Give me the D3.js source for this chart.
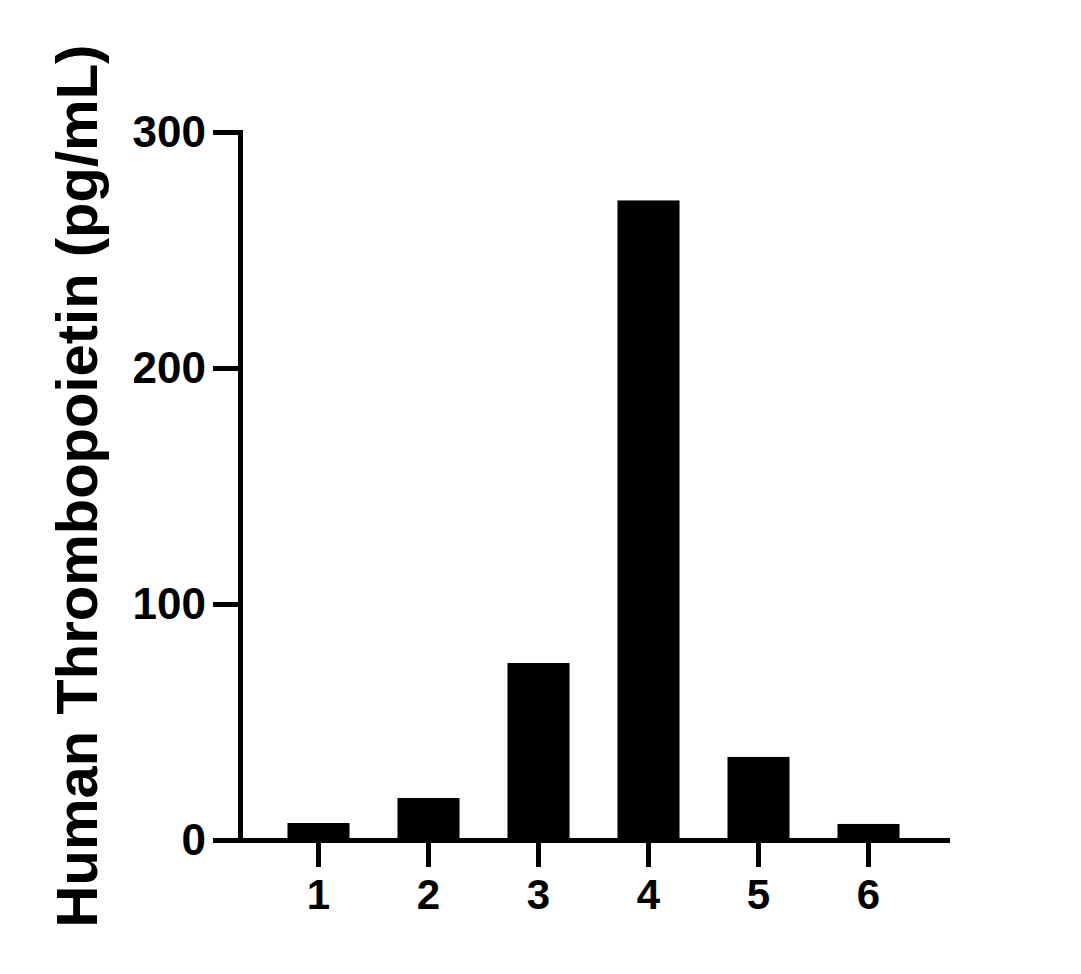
<!DOCTYPE html>
<html>
<head>
<meta charset="utf-8">
<script src="https://cdn.jsdelivr.net/npm/d3@7"></script>
<style>
  body { margin: 0; background: #fff; }
  svg { display: block; font-family: "Liberation Sans", Arial, sans-serif; font-weight: bold; }
</style>
</head>
<body>
<div id="chart"></div>
<script>
// values
const samples = ['1', '2', '3', '4', '5', '6'];
const values = [7.2, 17.8, 75, 271, 35.2, 6.8];
const yTicks = [0, 100, 200, 300];
const yTitle = 'Human Thrombopoietin (pg/mL)';

const width = 1081;
const height = 974;

const svg = d3.select('#chart')
  .append('svg')
  .attr('width', width)
  .attr('height', height);

const xScale = d3.scaleBand()
  .domain(samples)
  .range([240, 947])
  .paddingInner(0.436)
  .paddingOuter(0.4316);

const yScale = d3.scaleLinear().domain([0, 300]).range([840, 132]);

// bars
svg.append('g')
  .selectAll('rect')
  .data(samples)
  .join('rect')
  .attr('x', (d) => xScale(d))
  .attr('y', (d, i) => yScale(values[i]))
  .attr('width', xScale.bandwidth())
  .attr('height', (d, i) => yScale(0) - yScale(values[i]))
  .attr('fill', '#000');

// y axis
const yAxis = d3.axisLeft(yScale)
  .tickValues(yTicks)
  .tickSize(27)
  .tickSizeOuter(0)
  .tickPadding(7);

const gy = svg.append('g')
  .attr('transform', 'translate(240,0)')
  .call(yAxis);

// x axis
const xAxis = d3.axisBottom(xScale)
  .tickSize(27)
  .tickSizeOuter(0)
  .tickPadding(12);

const gx = svg.append('g')
  .attr('transform', 'translate(0,840)')
  .call(xAxis);

[gx, gy].forEach((g) => {
  g.select('.domain').attr('stroke', '#000').attr('stroke-width', 5).attr('stroke-linecap', 'square');
  g.selectAll('.tick line').attr('stroke', '#000').attr('stroke-width', 5);
  g.selectAll('text')
    .attr('fill', '#000')
    .style('font-family', '"Liberation Sans", Arial, sans-serif')
    .style('font-weight', 'bold');
});
gy.selectAll('text').style('font-size', '44px');
gx.selectAll('text').style('font-size', '42px');

// axis title
svg.append('text')
  .attr('transform', `translate(97, ${(132 + 840) / 2}) rotate(-90)`)
  .attr('text-anchor', 'middle')
  .style('font-size', '58px')
  .attr('fill', '#000')
  .text(yTitle);
</script>
</body>
</html>
